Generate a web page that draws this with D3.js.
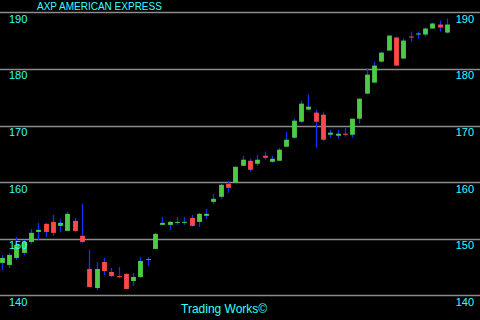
<!DOCTYPE html>
<html>
<head>
<meta charset="utf-8">
<script src="https://cdn.jsdelivr.net/npm/d3@7"></script>
<style>
  html, body { margin: 0; padding: 0; background: #000; }
  svg { display: block; }
</style>
</head>
<body>
<svg id="chart" width="480" height="320"></svg>
<script>
const title = "AXP  AMERICAN EXPRESS";
const footer = "Trading Works\u00A9";
const yTicks = [140, 150, 160, 170, 180, 190];

const opens = [145.72,145.36,146.60,147.49,149.43,151.20,152.62,152.97,152.27,151.38,153.15,150.50,
  144.65,141.29,145.89,144.12,143.38,143.77,142.53,143.24,146.42,148.19,152.44,152.44,152.80,152.80,
  153.68,152.97,154.04,156.51,157.40,159.70,159.88,162.88,163.77,163.24,164.65,163.59,163.77,166.25,
  167.84,170.67,172.80,172.27,171.91,168.37,168.19,168.55,168.37,171.20,175.63,177.58,181.29,183.24,
  185.54,181.82,185.72,186.07,186.07,187.13,187.84,186.42];
const highs = [147.13,147.49,150.32,149.79,151.73,152.80,152.80,154.21,153.50,154.74,153.68,156.16,
  148.02,145.89,146.60,144.83,145.01,143.95,143.95,146.78,146.78,151.03,153.86,153.15,153.86,153.86,
  154.21,154.57,155.27,157.93,159.70,160.23,162.71,164.65,164.12,164.83,165.36,164.65,166.07,168.90,
  171.20,174.39,175.45,172.80,172.44,169.26,169.26,169.61,171.20,174.74,180.05,181.29,183.06,185.89,
  185.72,185.36,186.60,186.60,187.31,188.19,188.55,188.90];
const lows = [144.48,144.83,146.25,147.13,149.08,149.79,150.32,150.50,151.20,151.38,151.20,149.26,
  141.47,140.94,143.59,143.24,143.06,141.12,141.65,143.06,145.19,148.19,152.44,151.56,152.44,152.44,
  152.09,152.09,153.50,156.16,157.04,158.11,159.88,162.88,161.82,162.88,163.95,163.42,163.77,166.25,
  167.66,170.50,172.80,166.07,167.31,167.84,167.66,168.02,167.84,170.32,175.63,177.58,181.12,183.24,
  180.58,181.82,184.83,185.36,185.72,187.13,186.60,186.25];
const closes = [146.60,147.13,148.90,149.43,151.03,151.56,151.20,151.03,152.80,154.39,151.38,149.43,
  141.47,144.65,144.30,143.42,143.24,141.12,143.24,146.07,146.25,150.85,152.80,152.97,152.97,152.97,
  152.27,154.39,154.39,157.04,159.52,158.99,162.71,163.95,162.18,163.95,164.30,164.12,165.72,167.49,
  170.85,173.86,173.33,170.67,167.49,168.73,168.55,168.37,171.20,174.74,178.99,180.58,182.88,185.89,
  180.58,185.01,185.54,186.25,187.13,188.02,187.31,187.84];

const W = 480, H = 320;
const svg = d3.select("#chart");
svg.append("rect").attr("width", W).attr("height", H).attr("fill", "#000");

const idx = d3.range(opens.length);
const step = 7.3;
const x = d3.scaleBand()
  .domain(idx)
  .range([1.7 - step / 2, 1.7 - step / 2 + step * idx.length])
  .paddingInner(0.34)
  .paddingOuter(0.17);
const y = d3.scaleLinear().domain([140, 190]).range([295.3, 12.3]);

// grid lines
svg.append("g").selectAll("line").data(yTicks).join("line")
  .attr("x1", 0).attr("x2", W)
  .attr("y1", d => Math.round(y(d)) + 0.5).attr("y2", d => Math.round(y(d)) + 0.5)
  .attr("stroke", "#8c8c8c").attr("stroke-width", 1.3);

// candles
const g = svg.append("g");
const cx = i => x(i) + x.bandwidth() / 2;
g.selectAll("line.wick").data(idx).join("line")
  .attr("class", "wick")
  .attr("x1", i => Math.round(cx(i)) + 0.5).attr("x2", i => Math.round(cx(i)) + 0.5)
  .attr("y1", i => y(highs[i])).attr("y2", i => y(lows[i]))
  .attr("stroke", "#1030ff").attr("stroke-width", 1.3);
g.selectAll("rect.body").data(idx).join("rect")
  .attr("class", "body")
  .attr("x", i => Math.round(cx(i)) + 0.5 - x.bandwidth() / 2)
  .attr("width", x.bandwidth())
  .attr("y", i => y(Math.max(opens[i], closes[i])))
  .attr("height", i => Math.max(1, Math.abs(y(opens[i]) - y(closes[i]))))
  .attr("fill", i => closes[i] >= opens[i] ? "#4ccc44" : "#ff4848");

// labels
const font = "'Liberation Sans', Arial, sans-serif";
const labels = svg.append("g").attr("fill", "#3ff").attr("font-family", font).attr("font-size", 11);
labels.selectAll("text.l").data(yTicks).join("text")
  .attr("class", "l").attr("x", 9).attr("y", d => y(d) + 10.5).text(d => d);
labels.selectAll("text.r").data(yTicks).join("text")
  .attr("class", "r").attr("x", 474).attr("text-anchor", "end").attr("y", d => y(d) + 10.5).text(d => d);

svg.append("text").attr("x", 37).attr("y", 10.3)
  .attr("fill", "#3ff").attr("font-family", font).attr("font-size", 10).text(title);
svg.append("text").attr("x", 181).attr("y", 313)
  .attr("fill", "#3ff").attr("font-family", font).attr("font-size", 12).text(footer);
</script>
</body>
</html>
